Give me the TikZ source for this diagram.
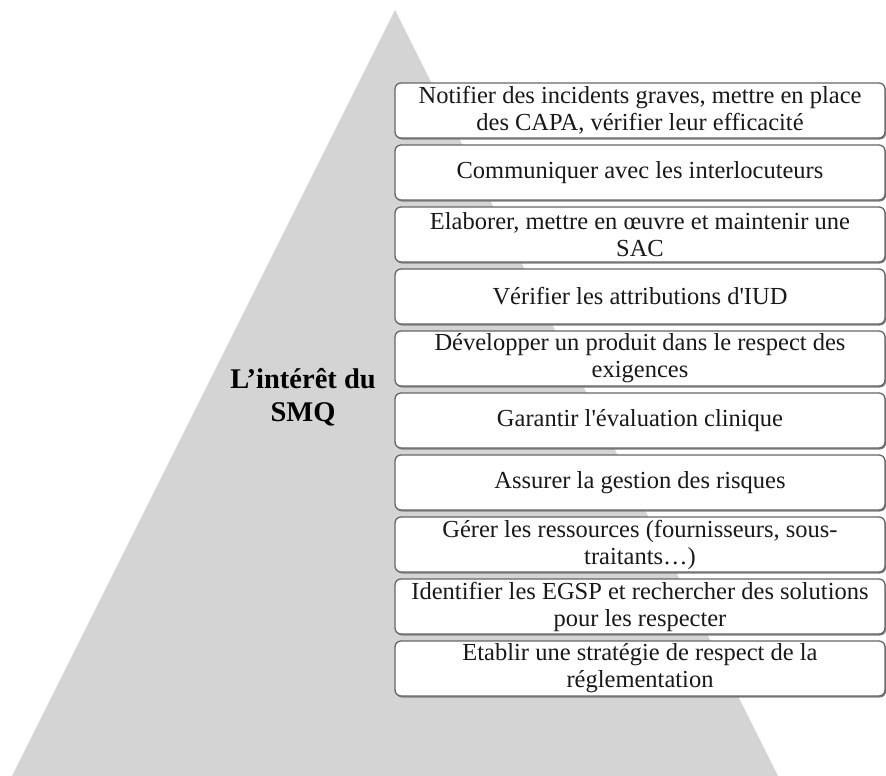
\documentclass[tikz,border=0pt]{standalone}
\usepackage{fontspec}
\setmainfont{Liberation Serif}
\begin{document}
\begin{tikzpicture}[x=1pt,y=-1pt,
  itembox/.style={draw=black!60, line width=1.3pt, rounded corners=6pt, fill=white,
    minimum width=490pt, minimum height=55pt, align=center, inner sep=0pt,
    font=\fontsize{24.5}{27}\selectfont, text=black!90},
  shadowbox/.style={fill=black!50, rounded corners=6pt, minimum width=490pt, minimum height=55pt, inner sep=0pt}]
\useasboundingbox (0,0) rectangle (886,776);
\fill[fill=black!17] (395,10) -- (778,776) -- (12,776) -- cycle;
\node[font=\bfseries\fontsize{28.5}{33}\selectfont, align=center] (title) at (303,397) {L’intérêt du\\SMQ};
\foreach \i/\t in {0/{Notifier des incidents graves, mettre en place\\des CAPA, vérifier leur efficacité},
  1/{Communiquer avec les interlocuteurs},
  2/{Elaborer, mettre en œuvre et maintenir une\\SAC},
  3/{Vérifier les attributions d\textquotesingle IUD},
  4/{Développer un produit dans le respect des\\exigences},
  5/{Garantir l\textquotesingle évaluation clinique},
  6/{Assurer la gestion des risques},
  7/{Gérer les ressources (fournisseurs, sous-\\traitants…)},
  8/{Identifier les EGSP et rechercher des solutions\\pour les respecter},
  9/{Etablir une stratégie de respect de la\\réglementation}}{
  \node[shadowbox] (s\i) at (641,{112+62*\i}) {};
  \node[itembox] (b\i) at (640,{110.5+62*\i}) {\t};
}
\end{tikzpicture}
\end{document}
